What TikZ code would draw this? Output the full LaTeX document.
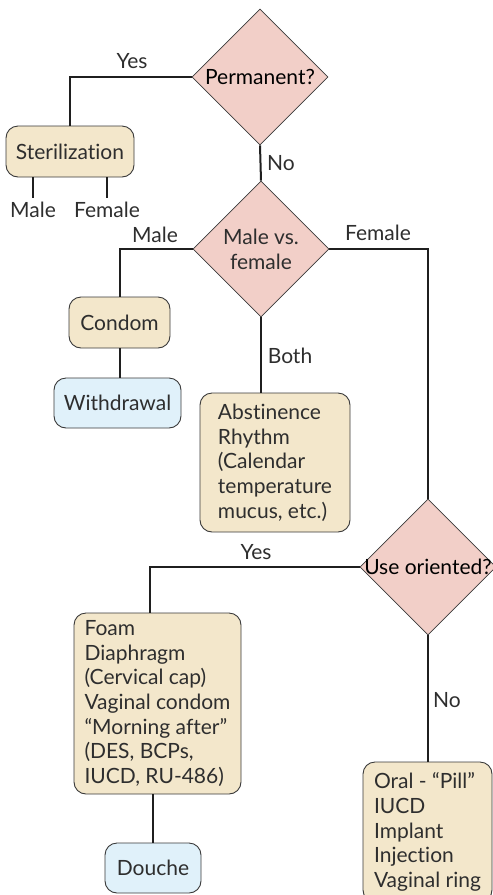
\documentclass[tikz,border=0pt]{standalone}
\usepackage{fontspec}
\setmainfont{Lato}[Ligatures=NoCommon]
\usetikzlibrary{shapes.geometric}
\definecolor{beige}{HTML}{F3E7CB}
\definecolor{pinkd}{HTML}{F2CFC8}
\definecolor{bluebox}{HTML}{E0F1FA}
\definecolor{edgegray}{HTML}{3A3A3A}
\definecolor{textgray}{HTML}{2E2E2E}
\begin{document}
\begin{tikzpicture}[x=1pt,y=-1pt,
  font=\fontsize{21}{24.7}\selectfont,
  box/.style={draw=edgegray, line width=0.9pt, rounded corners=12pt, inner sep=0pt, text=textgray},
  tanbox/.style={box, fill=beige},
  bluebx/.style={box, fill=bluebox},
  decision/.style={diamond, draw=edgegray, line width=0.7pt, fill=pinkd, inner sep=0pt,
    minimum width=136pt, minimum height=136pt, text=textgray},
  conn/.style={line width=2pt, draw=black!88},
  lbl/.style={inner sep=0pt, text=textgray}]
\useasboundingbox (0,0) rectangle (493,895);

% decisions
\node[decision, label={center:Permanent?}] (perm) at (260,77) {};
\node[decision, label={[align=center, text=textgray]center:Male vs.\\female}] (mvf) at (261,249) {};
\node[decision, label={center:Use oriented?}] (uo) at (428,567) {};

% boxes
\node[tanbox, minimum width=128pt, minimum height=51pt] (ster) at (70,151.5) {Sterilization};
\node[tanbox, minimum width=101pt, minimum height=51pt] (condom) at (119.5,322.5) {Condom};
\node[bluebx, minimum width=127pt, minimum height=50pt] (withdr) at (117.5,403) {Withdrawal};
\node[tanbox, minimum width=150pt, minimum height=139pt, align=left] (abst) at (275,462.5)
  {Abstinence\\Rhythm\\(Calendar\\temperature\\mucus, etc.)};
\node[tanbox, minimum width=167pt, minimum height=181pt, align=left] (foam) at (157.5,703.5)
  {Foam\\Diaphragm\\(Cervical cap)\\Vaginal condom\\“Morning after”\\(DES, BCPs,\\IUCD, RU-486)};
\node[bluebx, minimum width=96pt, minimum height=50pt] (douche) at (153,868) {Douche};
\node[tanbox, minimum width=129pt, minimum height=140pt, align=left] (oral) at (427.5,832)
  {Oral - “Pill”\\IUCD\\Implant\\Injection\\Vaginal ring};

% labels
\node[lbl] (yes1) at (132,61) {Yes};
\node[lbl] (no1) at (281,163) {No};
\node[lbl] (smale) at (33,210) {Male};
\node[lbl] (sfemale) at (107,210) {Female};
\node[lbl] (lmale) at (155,235) {Male};
\node[lbl] (lfemale) at (378,233) {Female};
\node[lbl] (both) at (290,356) {Both};
\node[lbl] (yes2) at (256,552) {Yes};
\node[lbl] (no2) at (447,700) {No};

% connectors
\draw[conn] (perm.west) -| (ster.north);
\draw[conn] (perm.south) -- (mvf.north);
\draw[conn] (ster.south -| smale.north) -- ([yshift=4pt]smale.north);
\draw[conn] (ster.south -| sfemale.north) -- ([yshift=4pt]sfemale.north);
\draw[conn] (mvf.west) -| (condom.north);
\draw[conn] (condom.south) -- (condom.south |- withdr.north);
\draw[conn] (mvf.south) -- (mvf.south |- abst.north);
\draw[conn] (mvf.east) -| (uo.north);
\draw[conn] (uo.west) -| ([xshift=-7.5pt]foam.north);
\draw[conn] ([xshift=-4.5pt]foam.south) -- ([xshift=-4.5pt]foam.south |- douche.north);
\draw[conn] (uo.south) -- (uo.south |- oral.north);
\end{tikzpicture}
\end{document}
